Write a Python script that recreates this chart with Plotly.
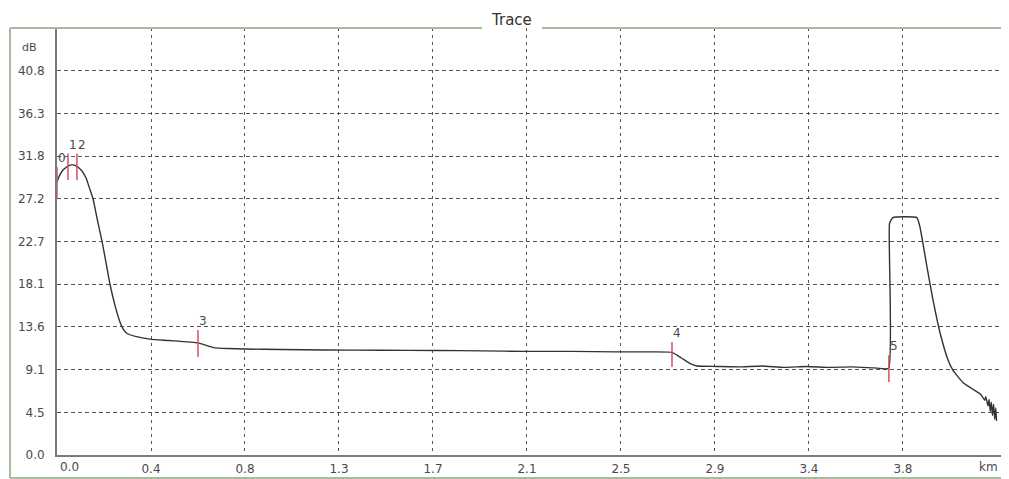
import plotly.graph_objects as go

# ---- data ----
trace_km = [0.000, 0.010, 0.025, 0.045, 0.065, 0.085, 0.110, 0.130, 0.147, 0.161,
            0.180, 0.201, 0.220, 0.237, 0.260, 0.280, 0.295, 0.313, 0.350, 0.416,
            0.500, 0.630, 0.700, 0.760, 0.840, 1.000, 1.200, 1.450, 1.700, 1.900,
            2.100, 2.300, 2.500, 2.650, 2.748, 2.790, 2.830, 2.860, 2.950, 3.050,
            3.150, 3.250, 3.350, 3.450, 3.550, 3.650, 3.716, 3.720, 3.735, 3.842,
            3.856, 3.887, 3.914, 3.946, 3.981, 4.003, 4.048, 4.111, 4.125, 4.135,
            4.145, 4.150, 4.160, 4.165, 4.170, 4.175, 4.180, 4.185, 4.190, 4.195,
            4.198]
trace_db = [29.0, 29.6, 30.2, 30.6, 30.8, 30.7, 30.2, 29.4, 28.2, 27.2,
            25.0, 22.7, 20.3, 18.1, 15.8, 14.2, 13.4, 12.9, 12.6, 12.3,
            12.15, 11.9, 11.4, 11.3, 11.25, 11.2, 11.15, 11.12, 11.1, 11.05,
            11.0, 11.0, 10.95, 10.95, 10.9, 10.3, 9.7, 9.45, 9.4, 9.35,
            9.45, 9.3, 9.4, 9.3, 9.35, 9.25, 9.2, 24.6, 25.2, 25.2,
            24.2, 20.0, 16.5, 12.95, 10.1, 9.0, 7.7, 6.7, 6.5, 6.2,
            5.8, 6.2, 5.2, 5.9, 4.6, 5.6, 4.2, 5.4, 3.8, 5.0,
            3.6]

marker_names = ["0", "1", "2", "3", "4", "5"]
marker_km = [0.0, 0.049, 0.089, 0.630, 2.748, 3.717]
marker_lo = [27.2, 29.2, 29.2, 10.4, 9.34, 7.75]
marker_hi = [30.6, 32.0, 32.0, 13.27, 12.0, 10.6]

x_tick_vals = [0.42, 0.84, 1.26, 1.68, 2.10, 2.52, 2.94, 3.36, 3.78]
x_tick_text = ["0.4", "0.8", "1.3", "1.7", "2.1", "2.5", "2.9", "3.4", "3.8"]
y_tick_vals = [i * 40.8 / 9 for i in range(10)]
y_tick_text = ["0.0", "4.5", "9.1", "13.6", "18.1", "22.7", "27.2", "31.8", "36.3", "40.8"]

# ---- figure ----
FONT = "DejaVu Sans"
TXT = "#4a4a4a"
FRAME = "#a9baa3"
OFF = 8                       # page body margin of the html page
W, H = 1009 - OFF, 479 - OFF
L, R, T, B = 57 - OFF, 6, 28 - OFF, 24
pw, ph = W - L - R, H - T - B


def px(xp):  # reference page pixel -> paper x
    return (xp - OFF - L) / pw


def py(yp):  # reference page pixel -> paper y
    return (H - B - (yp - OFF)) / ph


fig = go.Figure()
fig.add_trace(go.Scatter(x=trace_km, y=trace_db, mode="lines",
                         line=dict(color="#333333", width=1.4, shape="spline", smoothing=0.4),
                         hoverinfo="skip", showlegend=False))

for name, xk, lo, hi in zip(marker_names, marker_km, marker_lo, marker_hi):
    fig.add_trace(go.Scatter(x=[xk, xk], y=[lo, hi], mode="lines",
                             line=dict(color="#d9505e", width=1.5),
                             hoverinfo="skip", showlegend=False))
    fig.add_annotation(x=xk, y=hi, text=name, showarrow=False,
                       xanchor="center", yanchor="bottom", xshift=5, yshift=0,
                       font=dict(family=FONT, size=12, color=TXT))

# frame lines
frame = [
    (px(10), 1.0, px(482), 1.0),
    (px(542), 1.0, px(1009), 1.0),
    (px(10), 1.0, px(10), py(478)),
    (px(10), py(478), px(1009), py(478)),
]
for x0, y0, x1, y1 in frame:
    fig.add_shape(type="line", xref="paper", yref="paper", x0=x0, y0=y0, x1=x1, y1=y1,
                  line=dict(color=FRAME, width=2), layer="above")

fig.add_annotation(xref="paper", yref="paper", x=px(511), y=py(20), text="Trace",
                   showarrow=False, xanchor="center", yanchor="middle",
                   font=dict(family=FONT, size=15, color="#333333"))
fig.add_annotation(xref="paper", yref="paper", x=px(20), y=py(47), text="dB",
                   showarrow=False, xanchor="left", yanchor="middle",
                   font=dict(family=FONT, size=11, color=TXT))
fig.add_annotation(xref="paper", yref="paper", x=px(1000), y=py(467), text="km",
                   showarrow=False, xanchor="right", yanchor="middle",
                   font=dict(family=FONT, size=12, color=TXT))
fig.add_annotation(x=0, xref="x", yref="paper", y=py(467), text="0.0",
                   showarrow=False, xanchor="left", yanchor="middle", xshift=1,
                   font=dict(family=FONT, size=12, color=TXT))

fig.update_layout(
    width=W, height=H,
    margin=dict(l=L, r=R, t=T, b=B, pad=0, autoexpand=False),
    paper_bgcolor="white", plot_bgcolor="white",
    font=dict(family=FONT, size=12, color=TXT),
    showlegend=False,
    xaxis=dict(range=[0, 4.227], tickvals=x_tick_vals, ticktext=x_tick_text,
               showgrid=True, gridcolor="#555555", griddash="3px,4px", gridwidth=1,
               zeroline=False, showline=True, linecolor="#7a7a7a", linewidth=2,
               ticks="", ticklabelstandoff=2, fixedrange=True, automargin=False),
    yaxis=dict(range=[0, 45.33], tickvals=y_tick_vals, ticktext=y_tick_text,
               showgrid=True, gridcolor="#555555", griddash="4px,3px", gridwidth=1,
               zeroline=False, showline=True, linecolor="#7a7a7a", linewidth=2,
               ticks="", ticklabelstandoff=8, fixedrange=True, automargin=False),
)

fig.write_html("out.html")
